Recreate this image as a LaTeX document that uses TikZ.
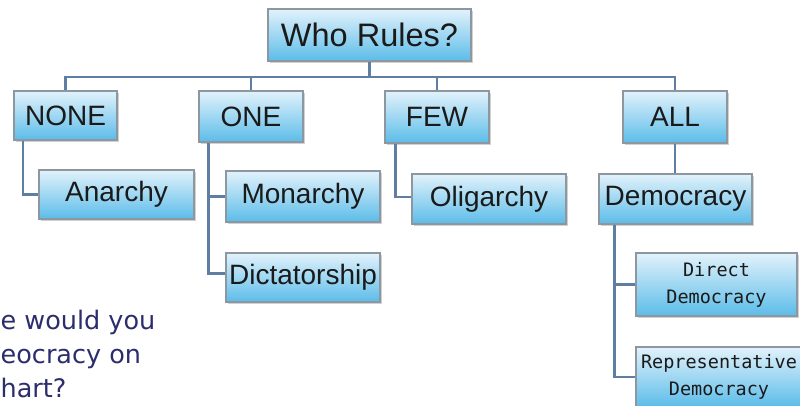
\documentclass[tikz,border=0pt]{standalone}
\usepackage{fontspec}
\setmainfont{Liberation Sans}
\newfontfamily\boxmono{DejaVu Sans Mono}
\newfontfamily\qfont{DejaVu Sans}
\usetikzlibrary{shadows}
\definecolor{boxtop}{HTML}{E2F2FB}
\definecolor{boxbot}{HTML}{5BBCE9}
\definecolor{boxline}{HTML}{8D979F}
\definecolor{conn}{HTML}{5E7FA2}
\definecolor{qcol}{HTML}{2C2D6C}
\definecolor{btxt}{HTML}{1A1A1A}
\begin{document}
\begin{tikzpicture}[x=1pt,y=-1pt,
  govbox/.style={draw=boxline, line width=1.1pt, top color=boxtop, bottom color=boxbot,
    inner sep=0pt, text=btxt, align=center,
    font=\fontsize{28}{32}\selectfont,
    drop shadow={shadow xshift=1.5pt, shadow yshift=-1.5pt, fill=black, opacity=0.18}},
  smallbox/.style={govbox, font=\boxmono\fontsize{18.5}{27}\selectfont},
  link/.style={draw=conn, line width=2.8pt},
  qline/.style={anchor=base west, inner sep=0pt, text=qcol, font=\qfont\fontsize{25.5}{30}\selectfont}]
\useasboundingbox (0,0) rectangle (800,405);
\fill[white] (0,0) rectangle (800,405);
\begin{scope}
\clip (0,0) rectangle (800,405);
% bus line coordinates
\coordinate (busL) at (65.5,77);
\coordinate (busR) at (675,77);
% nodes
\node[govbox, minimum width=203pt, minimum height=52pt, font=\fontsize{32.5}{34}\selectfont] (title) at (369.5,35) {Who Rules?};
\node[govbox, minimum width=103pt, minimum height=49pt] (none) at (65.5,115.5) {NONE};
\node[govbox, minimum width=104pt, minimum height=51pt] (one) at (251,116.5) {ONE};
\node[govbox, minimum width=104pt, minimum height=52pt] (few) at (437,117) {FEW};
\node[govbox, minimum width=104pt, minimum height=52pt] (all) at (675,117) {ALL};
\node[govbox, minimum width=155pt, minimum height=49pt] (anarchy) at (116.5,194.5) {Anarchy};
\node[govbox, minimum width=154pt, minimum height=51pt] (monarchy) at (303,196.5) {Monarchy};
\node[govbox, minimum width=154pt, minimum height=49pt] (dictator) at (303,277.5) {Dictatorship};
\node[govbox, minimum width=154pt, minimum height=50pt] (oligarchy) at (489,199) {Oligarchy};
\node[govbox, minimum width=153pt, minimum height=50pt] (democracy) at (675.5,199) {Democracy};
\node[smallbox, minimum width=161pt, minimum height=63pt] (direct) at (716.5,284.5) {Direct\\Democracy};
\node[smallbox, minimum width=166pt, minimum height=60pt] (repr) at (719,377) {Representative\\Democracy};
% connectors
\draw[link] (title.south) -- (title.south |- busL);
\draw[link] (none.north) -- (busL) -- (busR) -- (all.north);
\draw[link] (one.north) -- (one.north |- busL);
\draw[link] (few.north) -- (few.north |- busL);
\draw[link] ([xshift=9.5pt]none.south west) |- (anarchy.west);
\draw[link] ([xshift=10pt]one.south west) |- (monarchy.west);
\draw[link] ([xshift=10pt]one.south west) |- ([yshift=4pt]dictator.west);
\draw[link] ([xshift=11pt]few.south west) |- ([yshift=2pt]oligarchy.west);
\draw[link] (all.south) -- (all.south |- democracy.north);
\draw[link] ([xshift=16pt]democracy.south west) |- (direct.west);
\draw[link] ([xshift=16pt]democracy.south west) |- (repr.west);
\end{scope}
% question text (as it shows at the left edge)
\node[qline] (q1) at (0.5,329) {e would you};
\node[qline] (q2) at (0.5,363) {eocracy on};
\node[qline] (q3) at (0.5,397) {hart?};
\end{tikzpicture}
\end{document}
